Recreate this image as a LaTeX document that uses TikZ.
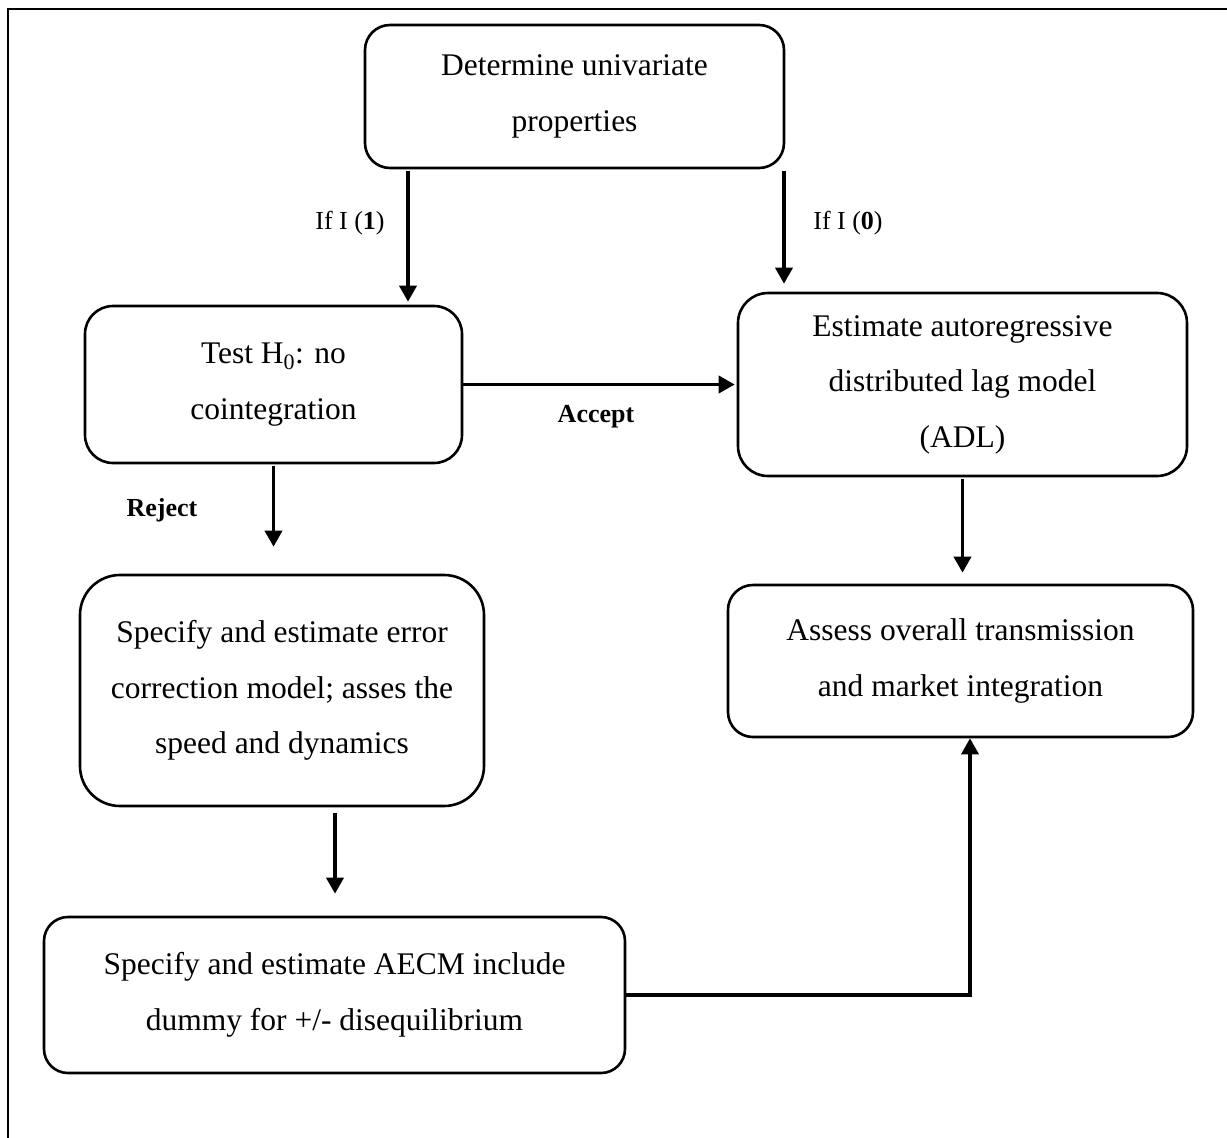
\documentclass[tikz,border=0pt]{standalone}
\usepackage{fontspec}
\setmainfont{Liberation Serif}
\usetikzlibrary{arrows.meta,calc}
\begin{document}
\begin{tikzpicture}[x=1pt,y=-1pt,
  box/.style={draw, line width=2.6pt, align=center, inner sep=0pt,
    font=\fontsize{31.5}{55.5}\selectfont},
  arr/.style={line width=3.6pt, -{Triangle[length=16pt,width=17pt]}},
  lbl/.style={font=\fontsize{26}{30}\selectfont, inner sep=0pt}]
\useasboundingbox (0,0) rectangle (1227,1138);
% outer frame (top and left edges only)
\draw[line width=2.2pt] (8,1140) -- (8,9) -- (1230,9);

\node[box, rounded corners=25pt, minimum width=419pt, minimum height=143pt] (A) at (574.5,96.5)
  {Determine univariate\\properties};
\node[box, rounded corners=28pt, minimum width=377pt, minimum height=157pt] (B) at (273.5,384.5)
  {Test H\textsubscript{0}: no\\cointegration};
\node[box, rounded corners=30pt, minimum width=449pt, minimum height=183pt] (C) at (962.5,384.5)
  {Estimate autoregressive\\distributed lag model\\(ADL)};
\node[box, rounded corners=40pt, minimum width=404pt, minimum height=231pt] (D) at (282,690.5)
  {Specify and estimate error\\correction model; asses the\\speed and dynamics};
\node[box, rounded corners=24pt, minimum width=581pt, minimum height=156pt] (E) at (334.5,995)
  {Specify and estimate AECM include\\dummy for +/- disequilibrium};
\node[box, rounded corners=25pt, minimum width=465pt, minimum height=152pt] (F) at (960.5,661)
  {Assess overall transmission\\and market integration};

\coordinate (x1) at (408,0);
\coordinate (x2) at (784,0);
\coordinate (x3) at (335,0);
\coordinate (x4) at (970,0);

\draw[arr, shorten <=2pt, shorten >=3pt] (A.south -| x1) -- (B.north -| x1);
\draw[arr, shorten <=2pt, shorten >=8pt] (A.south -| x2) -- (C.north -| x2);
\draw[arr, shorten >=2pt] (B.east) -- (C.west);
\draw[arr, shorten <=2pt, shorten >=27pt] (B.south) -- (B.south |- D.north);
\draw[arr, shorten <=6pt, shorten >=22pt] (D.south -| x3) -- (E.north -| x3);
\draw[arr, shorten <=2pt, shorten >=11pt] (C.south) -- (C.south |- F.north);
\draw[arr] (E.east) -| (F.south -| x4);

\node[lbl] (l1) at (350,223) {If I (\textbf{1})};
\node[lbl] (l0) at (848,223) {If I (\textbf{0})};
\node[lbl, font=\fontsize{26}{30}\selectfont\bfseries] (lacc) at (596,417) {Accept};
\node[lbl, font=\fontsize{26}{30}\selectfont\bfseries] (lrej) at (162,510) {Reject};
\end{tikzpicture}
\end{document}
